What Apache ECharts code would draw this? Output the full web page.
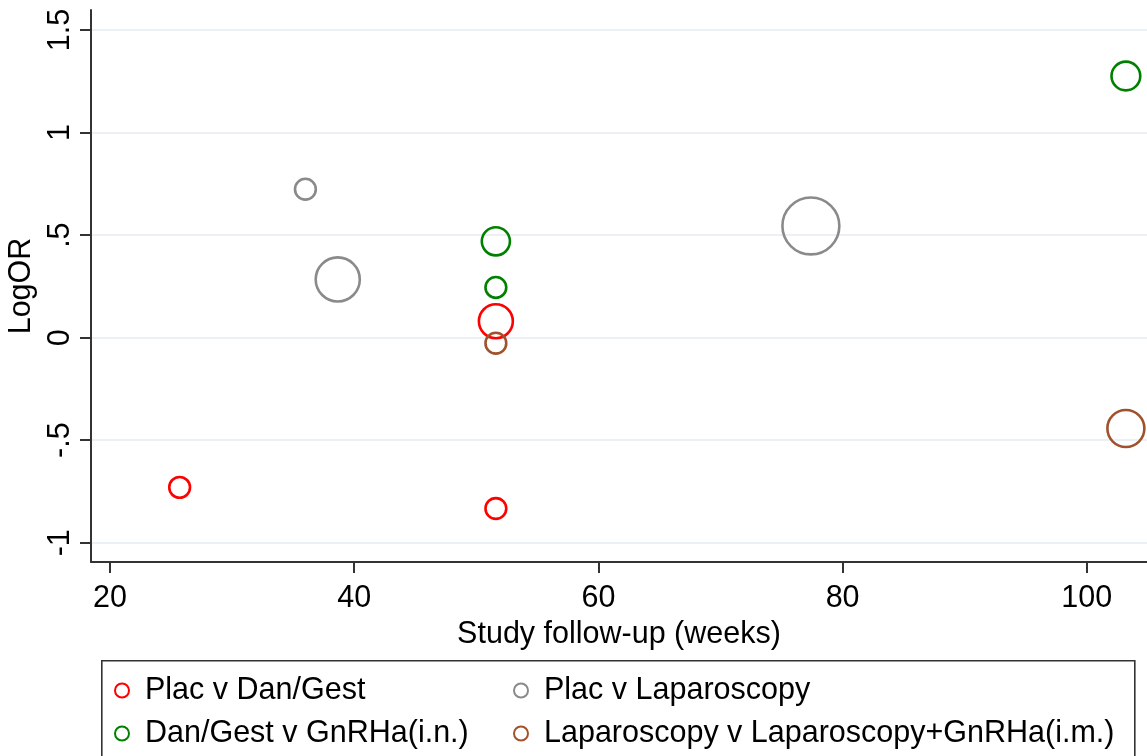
<!DOCTYPE html>
<html>
<head>
<meta charset="utf-8">
<script src="https://cdn.jsdelivr.net/npm/echarts@6/dist/echarts.min.js"></script>
<style>
html,body{margin:0;padding:0;background:#fff;}
#c{width:1147px;height:756px;}
</style>
</head>
<body>
<div id="c"></div>
<script>
// ---- data (x = follow-up weeks, y = LogOR, w = study weight) ----
var seriesNames = ['Plac v Dan/Gest', 'Dan/Gest v GnRHa(i.n.)', 'Plac v Laparoscopy', 'Laparoscopy v Laparoscopy+GnRHa(i.m.)'];
var placDanX = [25.7, 51.6, 51.6];
var placDanY = [-0.73, 0.08, -0.833];
var placDanW = [12, 32, 12];
var danGnX = [51.6, 51.6, 103.2];
var danGnY = [0.47, 0.245, 1.276];
var danGnW = [22, 12, 23];
var placLapX = [36.0, 38.65, 77.4];
var placLapY = [0.724, 0.284, 0.545];
var placLapW = [12, 54, 90];
var lapGnX = [51.6, 103.2];
var lapGnY = [-0.027, -0.443];
var lapGnW = [12, 38];
var xTicks = [20, 40, 60, 80, 100];
var yTicks = [-1, -0.5, 0, 0.5, 1, 1.5];
var yTickLabels = ['-1', '-.5', '0', '.5', '1', '1.5'];

var colors = ['#ff0000', '#008000', '#8a8a8a', '#a0522d'];
var FONT = 'Liberation Sans, Arial, Helvetica, sans-serif';
var FS = 30.5;

function pts(xs, ys, ws) {
  return xs.map(function (x, i) { return [x, ys[i], ws[i]]; });
}
var groups = [
  pts(placDanX, placDanY, placDanW),
  pts(danGnX, danGnY, danGnW),
  pts(placLapX, placLapY, placLapW),
  pts(lapGnX, lapGnY, lapGnW)
];

var series = groups.map(function (d, i) {
  return {
    name: seriesNames[i],
    type: 'scatter',
    data: d,
    clip: false,
    symbol: 'circle',
    symbolSize: function (v) { return Math.sqrt(v[2]) * 6; },
    itemStyle: { color: 'rgba(0,0,0,0)', borderColor: colors[i], borderWidth: 2.6, opacity: 1 },
    emphasis: { disabled: true },
    z: 3
  };
});

function legendCfg(names, left) {
  return {
    data: names,
    orient: 'vertical', left: left, top: 675, padding: 0,
    itemWidth: 14, itemHeight: 14, itemGap: 12,
    icon: 'circle',
    itemStyle: { color: 'rgba(0,0,0,0)', borderWidth: 2 },
    textStyle: { fontFamily: FONT, fontSize: FS, color: '#000', padding: [0, 0, 0, 11] },
    selectedMode: false
  };
}

var chart = echarts.init(document.getElementById('c'), null, { renderer: 'canvas' });
chart.setOption({
  animation: false,
  backgroundColor: '#ffffff',
  grid: { left: 91, top: 10, right: 0, bottom: 194, outerBoundsMode: 'none', containLabel: false },
  xAxis: {
    type: 'value',
    min: 18.44, max: 104.93,
    name: 'Study follow-up (weeks)',
    nameLocation: 'middle',
    nameGap: 44,
    nameTextStyle: { fontFamily: FONT, fontSize: FS, color: '#000' },
    axisLine: { show: true, onZero: false, lineStyle: { color: '#333', width: 2 } },
    axisTick: { show: true, length: 11, lineStyle: { color: '#333', width: 2 }, customValues: xTicks },
    axisLabel: { show: true, customValues: xTicks, margin: 21, fontFamily: FONT, fontSize: FS, color: '#000' },
    splitLine: { show: false }
  },
  yAxis: {
    type: 'value',
    min: -1.094, max: 1.598,
    name: 'LogOR',
    nameLocation: 'middle',
    nameGap: 46,
    nameRotate: 90,
    nameTextStyle: { fontFamily: FONT, fontSize: FS, color: '#000' },
    axisLine: { show: true, onZero: false, lineStyle: { color: '#333', width: 2 } },
    axisTick: { show: true, length: 11, lineStyle: { color: '#333', width: 2 }, customValues: yTicks },
    axisLabel: {
      show: true, customValues: yTicks, rotate: 90, margin: 15,
      fontFamily: FONT, fontSize: FS, color: '#000',
      formatter: function (v) {
        var i = yTicks.indexOf(v);
        return i >= 0 ? yTickLabels[i] : '';
      }
    },
    splitLine: { show: true, lineStyle: { color: '#ebf0f7', width: 2 } }
  },
  legend: [
    legendCfg([seriesNames[0], seriesNames[1]], 114),
    legendCfg([seriesNames[2], seriesNames[3]], 513)
  ],
  graphic: [
    {
      type: 'rect', left: 101, top: 660, z: 0,
      shape: { width: 1033, height: 120 },
      style: { fill: '#fff', stroke: '#333', lineWidth: 1.6 }
    }
  ],
  series: series
});
</script>
</body>
</html>
